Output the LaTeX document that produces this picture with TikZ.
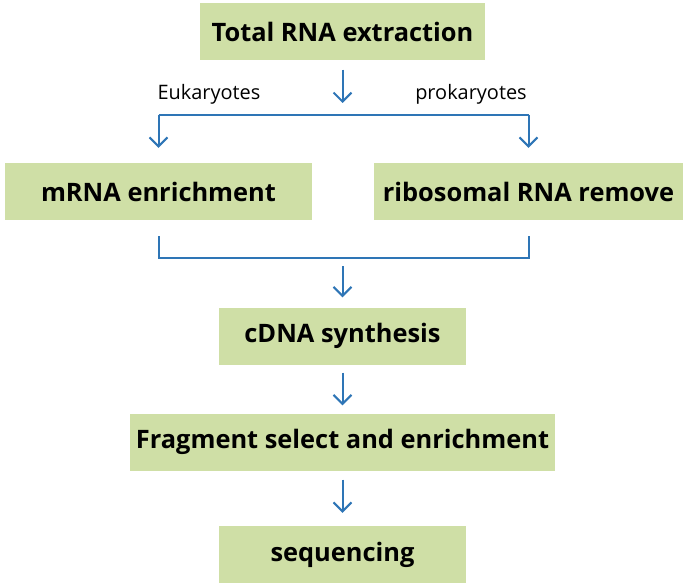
\documentclass[tikz,border=0pt]{standalone}
\usepackage{fontspec}
\setmainfont{Open Sans}
\usetikzlibrary{arrows.meta}
\definecolor{boxgreen}{RGB}{207,223,166}
\definecolor{arrowblue}{RGB}{46,117,182}
\begin{document}
\begin{tikzpicture}[x=1bp, y=-1bp,
    stepbox/.style={fill=boxgreen, inner sep=0pt, minimum height=57bp,
      font=\bfseries\fontsize{25.5}{30}\selectfont},
    kingdom/.style={font=\fontsize{20}{24}\selectfont},
    link/.style={draw=arrowblue, line width=2bp},
    flow/.style={link, -{Straight Barb[length=9bp, width=18bp]}}]
    \useasboundingbox (0,0) rectangle (685,588);

    % Boxes
    \node[stepbox, minimum width=285bp] (total) at (342.5,32) {Total RNA extraction};
    \node[stepbox, minimum width=307bp] (mrna) at (158.5,191.5) {mRNA enrichment};
    \node[stepbox, minimum width=309bp] (rrna) at (528.5,191.5) {ribosomal RNA remove};
    \node[stepbox, minimum width=247bp] (cdna) at (342.5,336) {cDNA synthesis};
    \node[stepbox, minimum width=424bp] (frag) at (342.5,442) {Fragment select and enrichment};
    \node[stepbox, minimum width=247bp] (seq) at (342.5,554.5) {sequencing};

    % Split into the two kinds of organism
    \coordinate (split) at (342.5,115);
    \draw[flow, shorten <=9bp, shorten >=12bp] (total.south) -- (split);
    \node[kingdom] (euk) at (209,94) {Eukaryotes};
    \node[kingdom] (prok) at (471,94) {prokaryotes};
    \draw[link] (split -| mrna) -- (split -| rrna);
    \draw[flow, shorten >=15bp] (split -| mrna) -- (mrna.north);
    \draw[flow, shorten >=15bp] (split -| rrna) -- (rrna.north);

    % Merge again
    \coordinate (merge) at (342.5,258);
    \draw[link, shorten <=16bp, shorten >=16bp]
      (mrna.south) -- (mrna |- merge) -- (rrna |- merge) -- (rrna.south);
    \draw[flow, shorten <=8bp, shorten >=10bp] (merge) -- (cdna.north);

    % Library and sequencing
    \draw[flow, shorten <=8bp, shorten >=8bp] (cdna.south) -- (frag.north);
    \draw[flow, shorten <=9bp, shorten >=13bp] (frag.south) -- (seq.north);
\end{tikzpicture}
\end{document}
